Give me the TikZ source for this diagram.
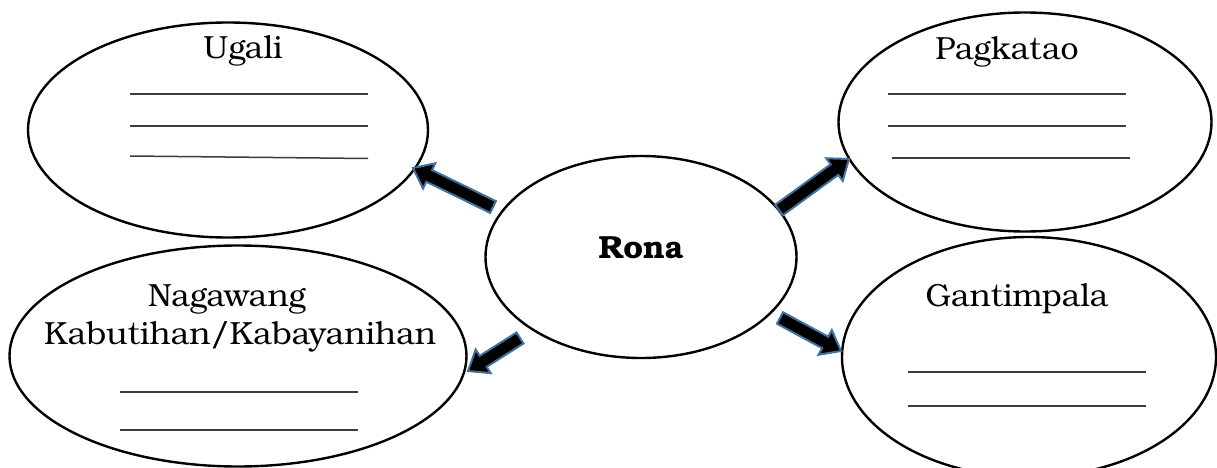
\documentclass[tikz,border=0pt]{standalone}
\usepackage{fontspec}
\setmainfont{texgyrebonum}[Extension=.otf,UprightFont=*-regular,BoldFont=*-bold]
\usetikzlibrary{shapes.geometric,calc}
\definecolor{arrowblue}{RGB}{65,113,156}
\definecolor{linegray}{RGB}{60,60,60}
\tikzset{
  bubble/.style={ellipse,draw=black,line width=2.4pt,inner sep=0pt,outer sep=0pt},
  label/.style={font=\fontsize{32}{38}\selectfont,anchor=base,inner sep=0pt},
  blank/.style={draw=linegray,line width=1.5pt},
  blockarr/.style={fill=black,draw=arrowblue,line width=2pt,line join=miter}
}
\newcommand\blockarrow[2]{%
  \coordinate (neck) at ($(#2)!18pt!(#1)$);
  \filldraw[blockarr] ($(#1)!6.5pt!90:(#2)$) -- ($(neck)!6.5pt!90:(#2)$) -- ($(neck)!14pt!90:(#2)$) -- (#2) -- ($(neck)!14pt!-90:(#2)$) -- ($(neck)!6.5pt!-90:(#2)$) -- ($(#1)!6.5pt!-90:(#2)$) -- cycle;}
\begin{document}
\begin{tikzpicture}[x=1pt,y=-1pt]
\useasboundingbox[fill=white] (0,0) rectangle (1217,468);
% bubbles
\node[bubble,minimum width=400pt,minimum height=215pt] (ugali) at (228,130) {};
\node[bubble,minimum width=373pt,minimum height=219pt] (pagkatao) at (1025,122) {};
\node[bubble,minimum width=457pt,minimum height=221pt] (nagawang) at (238,356) {};
\node[bubble,minimum width=374pt,minimum height=240pt] (gantimpala) at (1029,357) {};
\node[bubble,minimum width=311pt,minimum height=202pt] (rona) at (641,257) {};
% labels
\node[label] (tugali) at (243,59) {Ugali};
\node[label] (tpag) at (1007,60) {Pagkatao};
\node[label] (tnag1) at (227,306) {Nagawang};
\node[label] (tnag2) at (240,344) {Kabutihan/Kabayanihan};
\node[label] (tgant) at (1017,306) {Gantimpala};
\node[label,font=\fontsize{32}{38}\selectfont\bfseries] (trona) at (641,258) {Rona};
% blank lines
\draw[blank] (130,94) -- (368,94);
\draw[blank] (130,126) -- (368,126);
\draw[blank] (130,156) -- (368,158.5);
\draw[blank] (888,94) -- (1126,94);
\draw[blank] (888,126) -- (1126,126);
\draw[blank] (892,158) -- (1130,158);
\draw[blank] (120,392) -- (358,392);
\draw[blank] (120,430) -- (358,430);
\draw[blank] (908,372) -- (1146,372);
\draw[blank] (908,406) -- (1146,406);
% arrows
\coordinate (a1t) at (493,207);
\coordinate (a1h) at (413,168);
\coordinate (a2t) at (779,210);
\coordinate (a2h) at (849,159);
\coordinate (a3t) at (520,338);
\coordinate (a3h) at (468,371);
\coordinate (a4t) at (780,318);
\coordinate (a4h) at (841,351);
\blockarrow{a1t}{a1h}
\blockarrow{a2t}{a2h}
\blockarrow{a3t}{a3h}
\blockarrow{a4t}{a4h}
\end{tikzpicture}
\end{document}
